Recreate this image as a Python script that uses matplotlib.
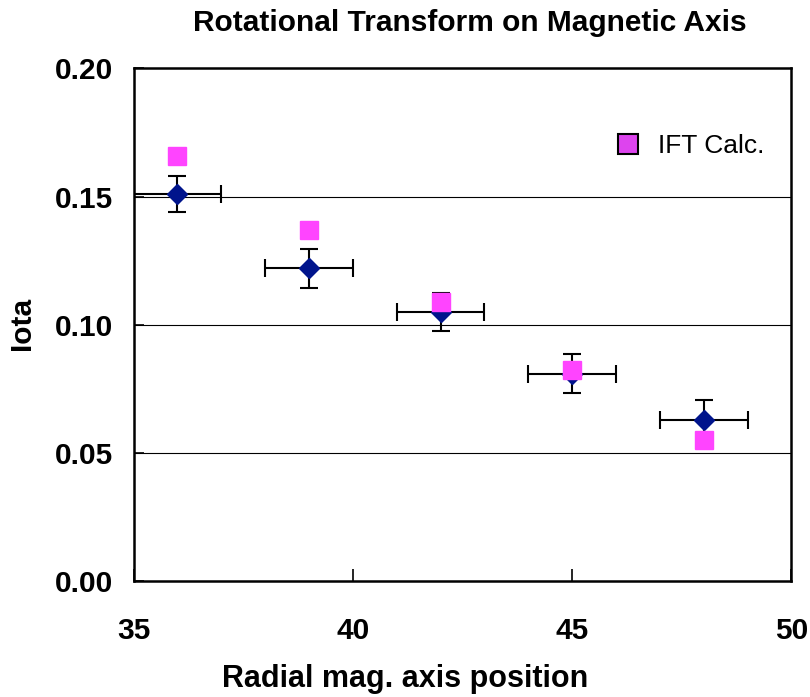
import matplotlib.pyplot as plt
from matplotlib.lines import Line2D

# measured iota on the magnetic axis
pos = [36, 39, 42, 45, 48]
iota = [0.151, 0.122, 0.105, 0.081, 0.063]
iota_err = [0.007, 0.0075, 0.0075, 0.0075, 0.0075]
pos_err = [1, 1, 1, 1, 1]

# IFT calculation
calc_pos = [36, 39, 42, 45, 48]
calc_iota = [0.166, 0.137, 0.109, 0.0825, 0.055]

xticks = [35, 40, 45, 50]
yticks = [0.00, 0.05, 0.10, 0.15, 0.20]

fam = ['Liberation Sans', 'DejaVu Sans']
tick_font = {'family': fam, 'weight': 'bold', 'size': 21.5}

fig = plt.figure(figsize=(8.1, 6.97), dpi=100)
ax = fig.add_axes([0.165, 0.166, 0.812, 0.736])

for y in yticks[1:-1]:
    ax.axhline(y, color='black', lw=0.8, zorder=1)

ax.errorbar(pos, iota, yerr=iota_err, xerr=pos_err, fmt='D', color='#00148c',
            markersize=10, ecolor='black', elinewidth=1.5, capsize=6.5, capthick=1.5, zorder=3)
ax.plot(calc_pos, calc_iota, 's', color='#ff44ff', markersize=13, zorder=4)

ax.set_xlim(35, 50)
ax.set_ylim(0, 0.20)
ax.set_xticks(xticks)
ax.set_yticks(yticks)
ax.set_xticklabels([str(v) for v in xticks], fontdict=tick_font)
ax.set_yticklabels(['%.2f' % v for v in yticks], fontdict=tick_font)
ax.tick_params(axis='x', direction='in', length=9, width=1.2, pad=26)
ax.tick_params(axis='y', direction='in', length=7, width=1.2, pad=15)
for sp in ax.spines.values():
    sp.set_linewidth(1.8)

fig.text(470 / 810, 1 - 23 / 697, 'Rotational Transform on Magnetic Axis', ha='center', va='center',
         family=fam, weight='bold', size=21.5)
fig.text(405 / 810, 1 - 679 / 697, 'Radial mag. axis position', ha='center', va='center',
         family=fam, weight='bold', size=22)
fig.text(22 / 810, 1 - 323 / 697, 'Iota', ha='center', va='center', rotation=90,
         family=fam, weight='bold', size=21.5)

handle = Line2D([], [], marker='s', ls='none', markersize=14, markerfacecolor='#dd44ee',
                markeredgecolor='black', markeredgewidth=1.5)
ax.legend([handle], ['IFT Calc.'], loc='center left', bbox_to_anchor=(0.731, 0.849),
          frameon=False, prop={'family': fam, 'size': 19}, handletextpad=0.65,
          handlelength=1.0, borderpad=0, borderaxespad=0)

fig.savefig('out.png', dpi=100)
